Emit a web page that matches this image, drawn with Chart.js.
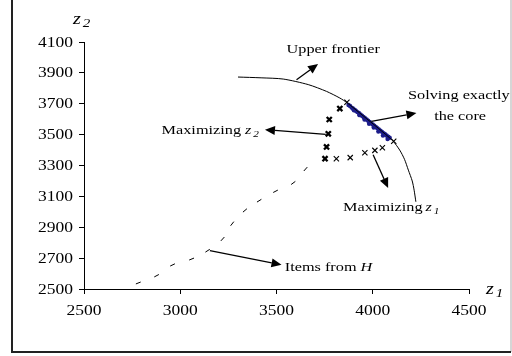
<!DOCTYPE html>
<html>
<head>
<meta charset="utf-8">
<script src="https://cdn.jsdelivr.net/npm/chart.js@4.4.1/dist/chart.umd.min.js"></script>
<style>
  body { margin: 0; background: #fff; }
  canvas { display: block; }
</style>
</head>
<body>
<canvas id="myChart" width="512" height="356"></canvas>
<script>
"use strict";

// axis ticks
const xTicks = [2500, 3000, 3500, 4000, 4500];
const yTicks = [2500, 2700, 2900, 3100, 3300, 3500, 3700, 3900, 4100];

// upper frontier curve
const frontierZ1 = [3300, 3420, 3535, 3665, 3760, 3829, 3866, 3950, 4030, 4104, 4140, 4165, 4185, 4205, 4215, 4224];
const frontierZ2 = [3873, 3868, 3860, 3824, 3780, 3737, 3707, 3622, 3540, 3460, 3400, 3340, 3270, 3200, 3140, 3065];

// solving exactly the core (blue)
const coreZ1 = [3874, 3882, 3890, 3897, 3905, 3912, 3920, 3928, 3936, 3944, 3952, 3960, 3968, 3976,
  3984, 3992, 4000, 4008, 4016, 4024, 4032, 4040, 4048, 4056, 4064, 4072, 4080, 4088,
  3902, 3931, 3957, 3981, 4005, 4029, 4053, 4077];
const coreZ2 = [3692, 3686, 3675, 3670, 3662, 3655, 3646, 3640, 3630, 3622, 3614, 3606, 3598, 3590,
  3582, 3573, 3566, 3558, 3549, 3542, 3534, 3526, 3518, 3510, 3502, 3494, 3487, 3480,
  3658, 3626, 3598, 3570, 3546, 3520, 3494, 3472];

// heuristic solutions (x markers)
const boldZ1 = [3829, 3774, 3769, 3760, 3752];
const boldZ2 = [3669, 3598, 3505, 3420, 3344];
const thinZ1 = [3866, 3811, 3883, 3959, 4011, 4050, 4109];
const thinZ2 = [3710, 3344, 3351, 3383, 3398, 3415, 3457];

// items from H
const itemsZ1 = [2782, 2877, 2960, 3059, 3142, 3220, 3270, 3336, 3410, 3495, 3587, 3651];
const itemsZ2 = [2539, 2586, 2656, 2694, 2748, 2824, 2923, 3009, 3072, 3133, 3187, 3277];

// annotation arrows (data coordinates)
const arrowFrom = [[3604, 3856], [3993, 3586], [3756, 3501], [4002, 3370], [3154, 2748]];
const arrowTo = [[3716, 3957], [4227, 3640], [3440, 3532], [4080, 3154], [3526, 2657]];

const FONT = "Liberation Serif, Times New Roman, serif";
const STRETCH = 1.25;

const pts = (xs, ys) => xs.map((x, i) => ({ x, y: ys[i] }));

const textW = (ctx, s, font) => {
  ctx.font = font;
  return ctx.measureText(s).width * STRETCH;
};

const drawText = (ctx, s, x, y, font, align) => {
  const w = textW(ctx, s, font);
  let left = x;
  if (align === "center") left = x - w / 2;
  if (align === "right") left = x - w;
  ctx.save();
  ctx.translate(left, y);
  ctx.scale(STRETCH, 1);
  ctx.font = font;
  ctx.textAlign = "left";
  ctx.textBaseline = "alphabetic";
  ctx.fillStyle = "#000";
  ctx.fillText(s, 0, 0);
  ctx.restore();
  return left + w;
};

// "z" with an italic subscript
const drawZ = (ctx, x, y, sub, size) => {
  let end = drawText(ctx, "z", x, y, "italic " + size + "px " + FONT, "left");
  drawText(ctx, sub, end + 2, y + 3, "italic " + Math.round(size * 0.72) + "px " + FONT, "left");
};

const arrow = (ctx, x1, y1, x2, y2) => {
  const a = Math.atan2(y2 - y1, x2 - x1);
  const len = 10, half = 4.5;
  const bx = x2 - Math.cos(a) * len, by = y2 - Math.sin(a) * len;
  ctx.beginPath();
  ctx.moveTo(x1, y1);
  ctx.lineTo(bx, by);
  ctx.strokeStyle = "#000";
  ctx.lineWidth = 1.3;
  ctx.stroke();
  ctx.beginPath();
  ctx.moveTo(x2, y2);
  ctx.lineTo(bx + Math.sin(a) * half, by - Math.cos(a) * half);
  ctx.lineTo(bx - Math.sin(a) * half, by + Math.cos(a) * half);
  ctx.closePath();
  ctx.fillStyle = "#000";
  ctx.fill();
};

const frame = {
  id: "frame",
  beforeDraw(chart) {
    const ctx = chart.ctx;
    ctx.save();
    ctx.fillStyle = "#fff";
    ctx.fillRect(0, 0, chart.width, chart.height);
    ctx.strokeStyle = "#c8c8c8";
    ctx.lineWidth = 1.5;
    ctx.beginPath();
    ctx.moveTo(511, 0);
    ctx.lineTo(511, 352);
    ctx.stroke();
    ctx.strokeStyle = "#222";
    ctx.lineWidth = 2;
    ctx.beginPath();
    ctx.moveTo(12, 0);
    ctx.lineTo(12, 352);
    ctx.lineTo(511, 352);
    ctx.stroke();
    ctx.restore();
  },
  afterDraw(chart) {
    const ctx = chart.ctx;
    const { x, y } = chart.scales;
    const area = chart.chartArea;
    const tickFont = "14px " + FONT;
    const labelFont = "13px " + FONT;

    y.ticks.forEach((t, i) => {
      drawText(ctx, String(t.value), area.left - 11, y.getPixelForTick(i) + 4.5, tickFont, "right");
    });
    x.ticks.forEach((t, i) => {
      drawText(ctx, String(t.value), x.getPixelForTick(i), area.bottom + 26, tickFont, "center");
    });

    // axis titles
    drawZ(ctx, area.left - 11, area.top - 18, "2", 16);
    drawZ(ctx, area.right + 17, area.bottom + 5, "1", 16);

    // arrows
    arrowFrom.forEach((p, i) => {
      const q = arrowTo[i];
      arrow(ctx, x.getPixelForValue(p[0]), y.getPixelForValue(p[1]),
        x.getPixelForValue(q[0]), y.getPixelForValue(q[1]));
    });

    // labels
    drawText(ctx, "Upper frontier", x.getPixelForValue(3795), y.getPixelForValue(4061) + 4.5, labelFont, "center");
    drawText(ctx, "Solving exactly", x.getPixelForValue(4447), y.getPixelForValue(3759) + 4.5, labelFont, "center");
    drawText(ctx, "the core", x.getPixelForValue(4454), y.getPixelForValue(3627) + 4.5, labelFont, "center");

    let end = drawText(ctx, "Maximizing", x.getPixelForValue(2903), y.getPixelForValue(3532) + 4.5, labelFont, "left");
    drawZ(ctx, end + 4, y.getPixelForValue(3532) + 4.5, "2", 13);
    end = drawText(ctx, "Maximizing", x.getPixelForValue(3846), y.getPixelForValue(3035) + 4.5, labelFont, "left");
    drawZ(ctx, end + 3, y.getPixelForValue(3035) + 4.5, "1", 13);

    end = drawText(ctx, "Items from ", x.getPixelForValue(3543), y.getPixelForValue(2646) + 4.5, labelFont, "left");
    drawText(ctx, "H", end, y.getPixelForValue(2646) + 4.5, "italic " + labelFont, "left");
  },
};

// orient each dash along the path of the items
const dashAngle = (c) => {
  const d = c.dataset.data;
  const i = c.dataIndex;
  const sx = c.chart.scales.x, sy = c.chart.scales.y;
  const a = d[Math.max(0, i - 1)], b = d[Math.min(d.length - 1, i + 1)];
  const dx = sx.getPixelForValue(b.x) - sx.getPixelForValue(a.x);
  const dy = sy.getPixelForValue(b.y) - sy.getPixelForValue(a.y);
  return (Math.atan2(dy, dx) * 180) / Math.PI;
};

const createChart = () => {
  const ctx = document.getElementById("myChart").getContext("2d");
  return new Chart(ctx, {
    type: "scatter",
    data: {
      datasets: [
        {
          label: "Upper frontier",
          data: pts(frontierZ1, frontierZ2),
          showLine: true,
          borderColor: "#000",
          borderWidth: 1,
          pointRadius: 0,
          tension: 0.25,
        },
        {
          label: "Solving exactly the core",
          data: pts(coreZ1, coreZ2),
          pointRadius: 2.2,
          borderWidth: 0,
          backgroundColor: "#1c1c8a",
        },
        {
          label: "Items from H",
          data: pts(itemsZ1, itemsZ2),
          pointStyle: "line",
          pointRadius: 2.6,
          borderWidth: 1,
          borderColor: "#000",
          rotation: dashAngle,
        },
        {
          label: "Maximizing z2",
          data: pts(boldZ1, boldZ2),
          pointStyle: "crossRot",
          pointRadius: 3.6,
          borderWidth: 2.3,
          borderColor: "#000",
        },
        {
          label: "Maximizing z1",
          data: pts(thinZ1, thinZ2),
          pointStyle: "crossRot",
          pointRadius: 3.7,
          borderWidth: 1.1,
          borderColor: "#000",
        },
      ],
    },
    options: {
      responsive: false,
      animation: false,
      layout: { padding: { left: 0, top: 42, right: 43, bottom: 0 } },
      plugins: { legend: { display: false }, tooltip: { enabled: false } },
      scales: {
        x: {
          type: "linear",
          min: 2500,
          max: 4500,
          afterBuildTicks: (s) => { s.ticks = xTicks.map((v) => ({ value: v })); },
          afterFit: (s) => { s.height = 67; },
          grid: { drawOnChartArea: false, drawTicks: true, tickLength: 5, color: "#000" },
          border: { color: "#000", width: 1 },
          ticks: { color: "rgba(0,0,0,0)", font: { size: 14, family: FONT } },
        },
        y: {
          type: "linear",
          min: 2500,
          max: 4100,
          afterBuildTicks: (s) => { s.ticks = yTicks.map((v) => ({ value: v })); },
          afterFit: (s) => { s.width = 84; },
          grid: { drawOnChartArea: false, drawTicks: true, tickLength: 5, color: "#000" },
          border: { color: "#000", width: 1 },
          ticks: { color: "rgba(0,0,0,0)", font: { size: 14, family: FONT } },
        },
      },
    },
    plugins: [frame],
  });
};

createChart();
</script>
</body>
</html>
